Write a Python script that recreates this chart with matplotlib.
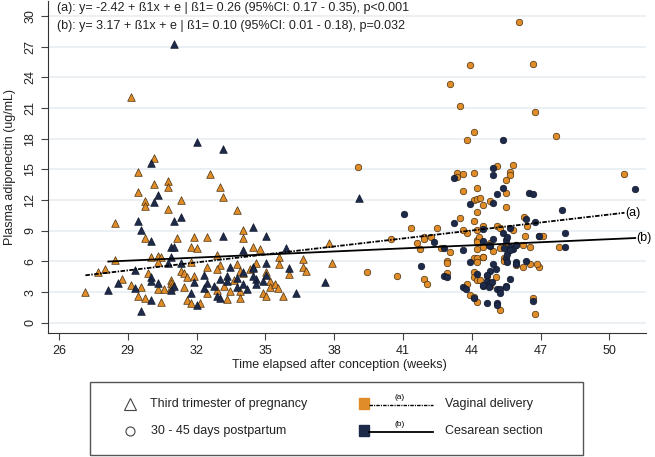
import numpy as np
import matplotlib
matplotlib.use("Agg")
import matplotlib.pyplot as plt
from matplotlib.patches import Rectangle

plt.rcParams['font.family'] = ['Liberation Sans', 'DejaVu Sans']

# Third trimester (triangles), vaginal delivery
tri_vag_x = [30.16, 29.45, 32.6, 30.16, 30.74, 30.74, 33.04, 29.45, 33.17, 29.74, 29.74, 31.31, 30.74,
             33.75, 28.44, 34.03, 29.74, 31.16, 31.89, 32.46, 34.03, 31.75, 32.02, 34.46, 34.76, 37.77,
             28.44, 30.01, 30.31, 30.45, 32.89, 35.61, 36.62, 37.91, 28.0, 27.71, 29.87, 30.31, 31.75,
             32.46, 33.02, 33.75, 34.61, 35.61, 36.62, 36.76, 36.05, 31.32, 31.45, 31.6, 32.89, 33.9,
             34.04, 35.19, 35.04, 27.15, 28.74, 29.15, 29.59, 29.45, 29.74, 30.45, 30.31, 30.6, 30.89,
             30.89, 30.89, 31.45, 31.6, 31.75, 32.17, 32.47, 32.89, 33.32, 33.46, 33.9, 33.9, 34.9,
             35.04, 35.19, 35.42, 35.57, 35.76, 29.15, 31.89, 34.33, 33.62, 33.19]
tri_vag_y = [16.13, 14.76, 14.5, 13.53, 13.85, 13.23, 13.29, 12.8, 12.32, 11.87, 11.41, 12.02, 11.11,
             11.02, 9.78, 9.06, 8.28, 8.28, 8.38, 8.38, 8.28, 7.4, 7.3, 7.4, 7.2, 7.79,
             6.13, 6.39, 6.55, 6.45, 6.59, 6.45, 6.2, 5.8, 5.28, 4.96, 4.89, 5.9, 5.9,
             5.44, 5.67, 5.71, 5.87, 5.71, 5.47, 5.08, 4.79, 5.08, 4.83, 4.47, 5.28, 5.08,
             4.83, 4.08, 4.99, 2.97, 4.27, 3.69, 3.46, 2.61, 2.45, 2.05, 3.29, 3.26, 4.2,
             3.9, 3.45, 3.52, 2.22, 1.93, 1.93, 2.93, 3.2, 2.32, 3.1, 3.1, 2.45, 2.87,
             2.61, 3.52, 3.75, 3.36, 2.61, 22.06, 4.56, 5.25, 4.17, 3.59]

# Third trimester (triangles), cesarean section
tri_ces_x = [32.03, 33.17, 30.03, 30.31, 30.16, 31.31, 31.03, 29.45, 29.58, 34.46, 33.17, 35.04, 30.01,
             30.89, 31.03, 34.03, 35.9, 30.89, 29.3, 30.74, 31.31, 33.46, 34.46, 35.04, 36.05, 32.33,
             33.33, 33.75, 34.61, 34.9, 28.15, 28.59, 29.3, 30.01, 29.59, 30.01, 30.01, 30.31, 31.03,
             30.89, 31.89, 31.75, 32.02, 32.46, 32.33, 32.75, 32.89, 33.04, 33.75, 34.04, 34.19, 34.61,
             36.34, 37.62, 35.04, 34.48, 34.04, 31.02, 39.08, 33.04, 33.33, 34.48]
tri_ces_y = [17.63, 16.95, 15.64, 12.51, 11.77, 10.36, 9.94, 9.97, 9.06, 9.35, 8.44, 8.47, 7.95,
             7.4, 7.4, 7.1, 7.3, 6.39, 5.12, 5.8, 5.8, 5.44, 5.44, 5.8, 5.35, 4.66,
             4.56, 4.34, 4.27, 4.1, 3.2, 3.91, 3.36, 2.22, 1.14, 4.5, 4.08, 3.85, 3.62,
             3.2, 3.95, 2.9, 1.7, 3.85, 3.36, 3.62, 2.61, 2.38, 3.52, 3.75, 3.26, 3.75,
             2.93, 4.01, 4.66, 5.32, 4.99, 27.2, 12.19, 4.25, 4.1, 4.56]

# 30-45 days postpartum (circles), vaginal delivery
cir_vag_x = [46.08, 43.91, 46.68, 43.06, 43.5, 46.78, 47.67, 44.08, 43.79, 45.81, 45.08, 45.65, 45.65,
             45.5, 43.34, 43.34, 43.64, 44.08, 43.64, 44.21, 45.5, 44.08, 44.23, 44.37, 44.81, 44.51,
             44.21, 45.5, 43.5, 44.08, 46.26, 45.08, 45.8, 41.34, 42.5, 44.22, 43.79, 46.34, 46.95,
             47.1, 40.47, 41.92, 42.22, 41.63, 42.64, 44.21, 44.21, 44.33, 44.81, 45.24, 45.5, 45.94,
             46.23, 46.52, 47.81, 41.75, 44.08, 44.22, 44.51, 45.39, 45.39, 42.91, 42.91, 44.22, 45.94,
             46.23, 46.53, 46.94, 40.76, 41.9, 42.07, 42.91, 43.79, 44.08, 44.11, 44.22, 44.37, 44.66,
             44.81, 45.07, 43.93, 44.08, 44.22, 45.24, 46.68, 46.78, 50.66, 39.06, 39.45, 43.07, 44.51,
             45.24, 46.41, 44.93, 44.51, 41.91, 46.84, 44.22, 44.51, 43.64]
cir_vag_y = [29.4, 25.2, 25.3, 23.33, 21.2, 20.63, 18.28, 18.61, 17.89, 15.45, 15.35, 14.7, 14.4,
             13.95, 14.6, 14.27, 14.5, 14.66, 12.9, 13.2, 12.65, 12.0, 12.1, 12.2, 11.93, 11.5,
             10.82, 11.31, 10.2, 9.97, 10.36, 9.45, 9.06, 9.23, 9.23, 9.06, 8.74, 8.47, 8.5,
             8.5, 8.15, 8.35, 8.35, 7.76, 7.3, 8.08, 7.17, 8.35, 7.76, 7.27, 7.66, 7.56,
             7.6, 7.43, 7.43, 7.17, 6.3, 6.3, 6.39, 6.3, 6.03, 6.0, 5.8, 5.9, 5.64,
             5.47, 5.71, 5.47, 4.53, 4.3, 3.81, 4.83, 3.78, 4.99, 4.44, 4.17, 4.17, 4.56,
             3.62, 4.5, 2.71, 2.48, 1.99, 1.24, 2.45, 0.82, 14.5, 15.25, 4.96, 6.94, 9.48,
             9.29, 9.45, 7.0, 6.42, 8.18, 5.71, 7.92, 7.4, 9.06]

# 30-45 days postpartum (circles), cesarean section
cir_ces_x = [45.37, 44.92, 44.92, 43.21, 45.37, 45.08, 46.49, 46.66, 43.93, 44.92, 47.93, 41.05, 43.21,
             46.36, 46.78, 45.65, 44.47, 48.08, 42.36, 42.77, 44.51, 44.81, 44.93, 43.64, 45.51, 45.39,
             45.66, 45.79, 48.08, 43.93, 45.5, 45.94, 46.36, 41.78, 42.77, 42.91, 43.61, 43.76, 44.22,
             44.51, 44.66, 44.81, 44.81, 45.07, 45.1, 45.24, 45.24, 45.5, 45.65, 44.08, 44.66, 45.08,
             45.08, 46.68, 51.13, 46.92, 45.37, 45.52, 45.95, 44.77, 45.52, 45.65, 44.93, 45.52, 45.94,
             44.48, 44.77, 45.5, 44.89, 44.66]
cir_ces_y = [17.83, 15.15, 14.47, 14.17, 13.14, 12.55, 12.65, 12.55, 11.63, 11.73, 11.02, 10.63, 9.71,
             10.1, 9.87, 9.23, 9.13, 8.74, 7.92, 7.27, 7.99, 7.47, 8.15, 7.1, 8.08, 7.27,
             7.43, 7.17, 7.43, 5.9, 6.3, 5.9, 6.03, 5.57, 4.56, 4.5, 3.52, 3.32, 4.76,
             3.62, 4.08, 3.91, 5.08, 5.22, 3.32, 3.27, 2.87, 3.59, 4.3, 2.38, 1.9, 1.9,
             1.73, 2.12, 13.07, 8.5, 8.74, 8.4, 7.6, 7.56, 6.68, 7.1, 5.7, 5.96, 5.7,
             3.69, 3.52, 3.52, 4.0, 4.63]

# regression fits: y = b0 + b1 * x
fit_a = (-2.42, 0.26)
fit_b = (3.17, 0.10)
note_a = "(a): y= -2.42 + ß1x + e | ß1= 0.26 (95%CI: 0.17 - 0.35), p<0.001"
note_b = "(b): y= 3.17 + ß1x + e | ß1= 0.10 (95%CI: 0.01 - 0.18), p=0.032"

orange = '#E08C28'
navy = '#1E2A4A'
W, H = 655, 457

fig = plt.figure(figsize=(W / 100, H / 100), dpi=100)
ax = fig.add_axes([48 / W, 1 - 333 / H, (646 - 48) / W, (333 - 1) / H])

ax.scatter(tri_vag_x, tri_vag_y, marker='^', s=30, color=orange, edgecolor='#4a3010', linewidth=0.5, zorder=3)
ax.scatter(tri_ces_x, tri_ces_y, marker='^', s=30, color=navy, edgecolor='#10182a', linewidth=0.5, zorder=3)
ax.scatter(cir_vag_x, cir_vag_y, marker='o', s=22, color=orange, edgecolor='#4a3010', linewidth=0.5, zorder=3)
ax.scatter(cir_ces_x, cir_ces_y, marker='o', s=22, color=navy, edgecolor='#10182a', linewidth=0.5, zorder=3)

# fitted lines over each group's range
xa = np.array([min(tri_vag_x + cir_vag_x), max(tri_vag_x + cir_vag_x)])
xb = np.array([min(tri_ces_x + cir_ces_x), max(tri_ces_x + cir_ces_x)])
ax.plot(xa, fit_a[0] + fit_a[1] * xa, color='black', lw=1.3, dashes=(2.5, 0.8, 0.8, 0.8), zorder=4)
ax.plot(xb, fit_b[0] + fit_b[1] * xb, color='black', lw=1.3, zorder=4)
ax.text(xa[1] + 0.05, fit_a[0] + fit_a[1] * xa[1], '(a)', fontsize=9, va='center', ha='left')
ax.text(xb[1] + 0.05, fit_b[0] + fit_b[1] * xb[1], '(b)', fontsize=9, va='center', ha='left')

ax.set_xlim(25.52, 51.6)
ax.set_ylim(-1.0, 31.45)
ax.set_xticks(np.arange(26, 51, 3))
ax.set_yticks(np.arange(0, 31, 3))
ax.tick_params(axis='both', labelsize=9, length=5, color='#444444', labelcolor='#222222')
for lab in ax.get_yticklabels():
    lab.set_rotation(90)
    lab.set_va('center')
ax.grid(axis='y', color='#E8EEF2', lw=1.2)
ax.set_axisbelow(True)
for s in ['top', 'right']:
    ax.spines[s].set_visible(False)
for s in ['left', 'bottom']:
    ax.spines[s].set_color('#333333')
ax.set_ylabel('Plasma adiponectin (ug/mL)', fontsize=9, color='#222222', labelpad=6)

fig.text(57 / W, 1 - 8 / H, note_a, fontsize=9, va='center', ha='left', color='#222222')
fig.text(57 / W, 1 - 26 / H, note_b, fontsize=9, va='center', ha='left', color='#222222')
fig.text(339 / W, 1 - 365 / H, 'Time elapsed after conception (weeks)', fontsize=9,
         ha='center', va='center', color='#222222')

# legend drawn in pixel space
lg = fig.add_axes([0, 0, 1, 1], zorder=-1)
lg.set_xlim(0, W)
lg.set_ylim(H, 0)
lg.axis('off')
lg.add_patch(Rectangle((90, 382), 493, 73, fill=False, edgecolor='#555555', lw=1))
lg.plot([130], [404], marker='^', ms=8, mfc='white', mec='#444444', mew=0.8)
lg.plot([130], [431], marker='o', ms=6.5, mfc='white', mec='#444444', mew=0.8)
lg.text(150, 404, 'Third trimester of pregnancy', fontsize=9, va='center', color='#222222')
lg.text(151, 431, '30 - 45 days postpartum', fontsize=9, va='center', color='#222222')
lg.add_patch(Rectangle((359, 398), 10, 11, color=orange))
lg.add_patch(Rectangle((359, 425), 10, 11, color=navy))
lg.plot([369, 433], [405, 405], color='black', lw=1, dashes=(2.5, 0.8, 0.8, 0.8))
lg.plot([369, 433], [432, 432], color='black', lw=1.3)
lg.text(400, 401, '(a)', fontsize=6, ha='center', va='bottom')
lg.text(400, 428, '(b)', fontsize=6, ha='center', va='bottom')
lg.text(445, 404, 'Vaginal delivery', fontsize=9, va='center', color='#222222')
lg.text(445, 431, 'Cesarean section', fontsize=9, va='center', color='#222222')

fig.savefig('out.png', dpi=100)
